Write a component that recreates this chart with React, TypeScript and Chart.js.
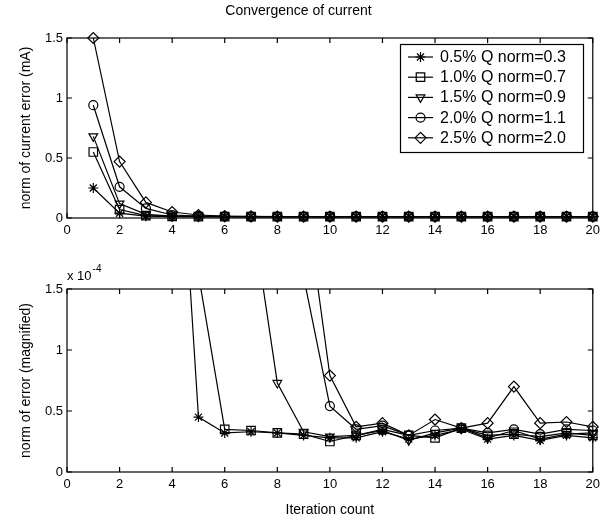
import React, { useEffect, useRef } from 'react';
import { Chart, registerables } from 'chart.js';
import { drawPoint } from 'chart.js/helpers';

Chart.register(...registerables);

const FONT = '"Liberation Sans", Arial, Helvetica, sans-serif';

// ---------- data ----------
const iterations = [1, 2, 3, 4, 5, 6, 7, 8, 9, 10, 11, 12, 13, 14, 15, 16, 17, 18, 19, 20];
const xTickValues = [0, 2, 4, 6, 8, 10, 12, 14, 16, 18, 20];
const yTickValues = [0, 0.5, 1, 1.5];
const yTickLabels = ['0', '0.5', '1', '1.5'];

const seriesLabels = [
  '0.5% Q norm=0.3',
  '1.0% Q norm=0.7',
  '1.5% Q norm=0.9',
  '2.0% Q norm=1.1',
  '2.5% Q norm=2.0',
];
const seriesPointStyles = ['star', 'rect', 'triangle', 'circle', 'rectRot'];
const seriesRotations = [0, 0, 180, 0, 0];
const seriesRadii = [5, 6, 5, 4.5, 5.5];

// Top panel: norm of current error (mA)
const currentErrQ05 = [0.25, 0.04, 0.015, 0.012, 0.012, 0.012, 0.012, 0.012, 0.012, 0.012, 0.012, 0.012, 0.012, 0.012, 0.012, 0.012, 0.012, 0.012, 0.012, 0.012];
const currentErrQ10 = [0.55, 0.07, 0.02, 0.014, 0.012, 0.012, 0.012, 0.012, 0.012, 0.012, 0.012, 0.012, 0.012, 0.012, 0.012, 0.012, 0.012, 0.012, 0.012, 0.012];
const currentErrQ15 = [0.68, 0.12, 0.03, 0.015, 0.013, 0.012, 0.012, 0.012, 0.012, 0.012, 0.012, 0.012, 0.012, 0.012, 0.012, 0.012, 0.012, 0.012, 0.012, 0.012];
const currentErrQ20 = [0.94, 0.26, 0.08, 0.025, 0.015, 0.013, 0.012, 0.012, 0.012, 0.012, 0.012, 0.012, 0.012, 0.012, 0.012, 0.012, 0.012, 0.012, 0.012, 0.012];
const currentErrQ25 = [1.5, 0.47, 0.13, 0.05, 0.025, 0.015, 0.013, 0.012, 0.012, 0.012, 0.012, 0.012, 0.012, 0.012, 0.012, 0.012, 0.012, 0.012, 0.012, 0.012];

// Bottom panel: norm of error (magnified), x 10^-4 (null = far above the visible range)
const magErrQ05 = [null, null, null, 3.85, 0.45, 0.32, 0.33, 0.32, 0.3, 0.28, 0.28, 0.33, 0.27, 0.3, 0.35, 0.27, 0.3, 0.26, 0.3, 0.28];
const magErrQ10 = [null, null, null, null, 1.62, 0.35, 0.34, 0.32, 0.31, 0.25, 0.3, 0.35, 0.3, 0.28, 0.36, 0.3, 0.31, 0.29, 0.32, 0.3];
const magErrQ15 = [null, null, null, null, null, null, 2.18, 0.73, 0.33, 0.29, 0.3, 0.34, 0.26, 0.32, 0.36, 0.28, 0.34, 0.27, 0.31, 0.32];
const magErrQ20 = [null, null, null, null, null, null, null, null, 1.6, 0.54, 0.35, 0.38, 0.3, 0.34, 0.36, 0.32, 0.35, 0.31, 0.35, 0.34];
const magErrQ25 = [null, null, null, null, null, null, null, null, 2.37, 0.79, 0.37, 0.4, 0.3, 0.43, 0.36, 0.4, 0.7, 0.4, 0.41, 0.37];

const topSeries = [currentErrQ05, currentErrQ10, currentErrQ15, currentErrQ20, currentErrQ25];
const bottomSeries = [magErrQ05, magErrQ10, magErrQ15, magErrQ20, magErrQ25];

// ---------- helpers ----------
const makeDatasets = (series: (number | null)[][], clip: any) =>
  series.map((vals, i) => ({
    label: seriesLabels[i],
    data: iterations.map((x, j) => ({ x, y: vals[j] })),
    borderColor: '#000',
    borderWidth: 1.2,
    pointStyle: seriesPointStyles[i],
    pointRotation: seriesRotations[i],
    pointRadius: seriesRadii[i],
    pointBorderWidth: 1.2,
    pointBorderColor: '#000',
    pointBackgroundColor: 'rgba(0,0,0,0)',
    fill: false,
    tension: 0,
    spanGaps: false,
    clip,
  }));

const framePlugin = {
  id: 'frameTicks',
  afterDatasetsDraw(chart: any) {
    const { ctx, chartArea, scales } = chart;
    const { left, right, top, bottom } = chartArea;
    ctx.save();
    ctx.strokeStyle = '#000';
    ctx.lineWidth = 1.2;
    ctx.strokeRect(left, top, right - left, bottom - top);
    const len = 5;
    ctx.beginPath();
    xTickValues.forEach((v) => {
      const px = scales.x.getPixelForValue(v);
      ctx.moveTo(px, bottom);
      ctx.lineTo(px, bottom - len);
      ctx.moveTo(px, top);
      ctx.lineTo(px, top + len);
    });
    yTickValues.forEach((v) => {
      const py = scales.y.getPixelForValue(v);
      ctx.moveTo(left, py);
      ctx.lineTo(left + len, py);
      ctx.moveTo(right, py);
      ctx.lineTo(right - len, py);
    });
    ctx.stroke();
    ctx.restore();
  },
};

const legendBoxPlugin = {
  id: 'insideLegend',
  afterDraw(chart: any) {
    const { ctx } = chart;
    const bx = 400.5;
    const by = 44.5;
    const bw = 183;
    const bh = 108;
    ctx.save();
    ctx.fillStyle = '#fff';
    ctx.fillRect(bx, by, bw, bh);
    ctx.strokeStyle = '#000';
    ctx.lineWidth = 1.2;
    ctx.strokeRect(bx, by, bw, bh);
    ctx.font = `16px ${FONT}`;
    ctx.textBaseline = 'middle';
    ctx.textAlign = 'left';
    chart.data.datasets.forEach((ds: any, i: number) => {
      const y = 57 + i * 20.2;
      ctx.strokeStyle = '#000';
      ctx.lineWidth = 1.2;
      ctx.beginPath();
      ctx.moveTo(408, y);
      ctx.lineTo(433, y);
      ctx.stroke();
      ctx.fillStyle = 'rgba(0,0,0,0)';
      drawPoint(ctx, {
        pointStyle: ds.pointStyle,
        rotation: ds.pointRotation,
        radius: ds.pointRadius,
        borderWidth: 1.2,
      } as any, 420.5, y);
      ctx.fillStyle = '#000';
      ctx.fillText(ds.label, 440, y + 0.5);
    });
    ctx.restore();
  },
};

const exponentPlugin = {
  id: 'exponentLabel',
  afterDraw(chart: any) {
    const { ctx } = chart;
    ctx.save();
    ctx.fillStyle = '#000';
    ctx.textBaseline = 'middle';
    ctx.textAlign = 'left';
    ctx.font = `13px ${FONT}`;
    const base = 'x 10';
    ctx.fillText(base, 67, 14);
    const w = ctx.measureText(base).width;
    ctx.font = `10px ${FONT}`;
    ctx.fillText('-4', 67 + w + 1, 7);
    ctx.restore();
  },
};

const makeScales = (xHeight: number, yTitle: string, xTitle: string | null) => ({
  x: {
    type: 'linear',
    min: 0,
    max: 20,
    afterBuildTicks: (s: any) => {
      s.ticks = xTickValues.map((v) => ({ value: v }));
    },
    afterFit: (s: any) => {
      s.height = xHeight;
    },
    grid: { display: false, drawTicks: false },
    border: { display: false },
    ticks: {
      color: '#000',
      font: { size: 13, family: FONT },
      padding: 5,
      maxRotation: 0,
      autoSkip: false,
      callback: (v: any) => String(v),
    },
    title: xTitle
      ? {
          display: true,
          text: xTitle,
          color: '#000',
          font: { size: 14, family: FONT },
          padding: { top: 0, bottom: 5.6 },
        }
      : { display: false },
  },
  y: {
    type: 'linear',
    min: 0,
    max: 1.5,
    afterBuildTicks: (s: any) => {
      s.ticks = yTickValues.map((v) => ({ value: v }));
    },
    afterFit: (s: any) => {
      s.width = 67;
    },
    grid: { display: false, drawTicks: false },
    border: { display: false },
    ticks: {
      color: '#000',
      font: { size: 13, family: FONT },
      padding: 4,
      autoSkip: false,
      callback: (v: any) => {
        const idx = yTickValues.indexOf(Number(v));
        return idx >= 0 ? yTickLabels[idx] : String(v);
      },
    },
    title: {
      display: true,
      text: yTitle,
      color: '#000',
      font: { size: 14, family: FONT },
      padding: { top: 17.6, bottom: 0 },
    },
  },
});

export default function App() {
  const topRef = useRef<HTMLCanvasElement>(null);
  const bottomRef = useRef<HTMLCanvasElement>(null);

  useEffect(() => {
    if (!topRef.current || !bottomRef.current) return;
    const topChart = new Chart(topRef.current, {
      type: 'line',
      data: { datasets: makeDatasets(topSeries, false) as any },
      options: {
        responsive: false,
        animation: false,
        events: [],
        layout: { padding: { left: 0, right: 8, top: 0, bottom: 0 } },
        plugins: {
          legend: { display: false },
          tooltip: { enabled: false },
          title: {
            display: true,
            text: 'Convergence of current',
            color: '#000',
            font: { size: 14, family: FONT, weight: 'normal' },
            padding: { top: 3, bottom: 18.2 },
          },
        },
        scales: makeScales(44, 'norm of current error (mA)', null) as any,
      },
      plugins: [framePlugin, legendBoxPlugin],
    });

    const bottomChart = new Chart(bottomRef.current, {
      type: 'line',
      data: { datasets: makeDatasets(bottomSeries, { left: 10, right: 10, top: 0, bottom: 10 }) as any },
      options: {
        responsive: false,
        animation: false,
        events: [],
        layout: { padding: { left: 0, right: 8, top: 27, bottom: 0 } },
        plugins: {
          legend: { display: false },
          tooltip: { enabled: false },
          title: { display: false },
        },
        scales: makeScales(52, 'norm of error (magnified)', 'Iteration count') as any,
      },
      plugins: [framePlugin, exponentPlugin],
    });

    return () => {
      topChart.destroy();
      bottomChart.destroy();
    };
  }, []);

  return (
    <div style={{ position: 'absolute', left: 0, top: 0, width: 605, height: 524, background: '#fff' }}>
      <canvas ref={topRef} width={605} height={262} style={{ position: 'absolute', left: 0, top: 0, display: 'block' }} />
      <canvas ref={bottomRef} width={605} height={262} style={{ position: 'absolute', left: 0, top: 262, display: 'block' }} />
    </div>
  );
}
